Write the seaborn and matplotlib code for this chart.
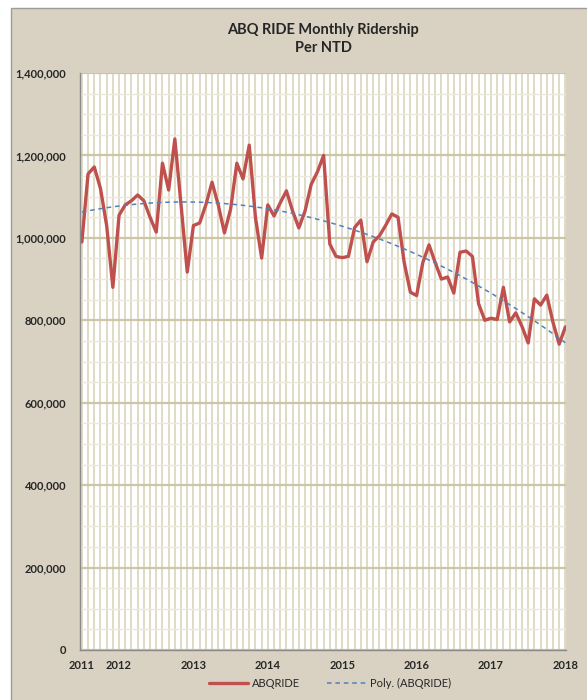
import matplotlib
matplotlib.use("Agg")
import matplotlib.pyplot as plt
from matplotlib.patches import Rectangle
from matplotlib.ticker import FuncFormatter, MultipleLocator
import seaborn as sns
import pandas as pd
import numpy as np

# ABQ RIDE monthly unlinked trips (NTD), Jul 2011 .. Jan 2018
start_month = "2011-07"
riders = [
    990000, 1155000, 1172000, 1120000, 1030000, 880000,
    1055000, 1080000, 1090000, 1104000, 1090000, 1050000,
    1014000, 1181000, 1116000, 1240000, 1080000, 917000,
    1030000, 1036000, 1080000, 1135000, 1080000, 1012000,
    1070000, 1181000, 1143000, 1225000, 1050000, 951000,
    1080000, 1053000, 1085000, 1114000, 1065000, 1024000,
    1065000, 1130000, 1160000, 1200000, 985000, 955000,
    952000, 955000, 1025000, 1043000, 942000, 990000,
    1005000, 1030000, 1058000, 1050000, 940000, 868000,
    860000, 940000, 983000, 940000, 900000, 905000,
    866000, 965000, 968000, 955000, 840000, 800000,
    805000, 802000, 880000, 796000, 818000, 785000,
    745000, 852000, 837000, 861000, 795000, 742000,
    784000,
]
year_labels = ["2011", "2012", "2013", "2014", "2015", "2016", "2017", "2018"]
series_name = "ABQRIDE"
trend_name = "Poly. (ABQRIDE)"

months = pd.period_range(start_month, periods=len(riders), freq="M")
df = pd.DataFrame({"idx": np.arange(len(riders)), "riders": riders})
tick_pos = [0] + [i for i, m in enumerate(months) if m.month == 1]

sns.set_style("white")
plt.rcParams["font.family"] = ["Lato", "DejaVu Sans"]

fig = plt.figure(figsize=(5.87, 7.0), dpi=100, facecolor="white")
fig.add_artist(Rectangle((11 / 587, -0.01), 1.0, 1 - 8 / 700 + 0.01,
                         transform=fig.transFigure, facecolor="#d9d2c2",
                         edgecolor="#9c9c9c", lw=1, zorder=0))

ax = fig.add_axes([80 / 587, 50 / 700, 486 / 587, 577 / 700])
ax.set_facecolor("white")

sns.lineplot(data=df, x="idx", y="riders", ax=ax, color="#c0504d", lw=2.4,
             label=series_name, solid_joinstyle="round", solid_capstyle="round")
sns.regplot(data=df, x="idx", y="riders", ax=ax, order=2, scatter=False, ci=None,
            color="#4f81bd", label=trend_name,
            line_kws={"lw": 1.1, "ls": (0, (3, 2.5))})

ax.set_xlim(-0.3, 78.1)
ax.set_ylim(0, 1400000)
ax.set_xticks(tick_pos)
ax.set_xticklabels(year_labels)
ax.xaxis.set_minor_locator(MultipleLocator(1))
ax.yaxis.set_major_locator(MultipleLocator(200000))
ax.yaxis.set_minor_locator(MultipleLocator(50000))
ax.yaxis.set_major_formatter(FuncFormatter(lambda v, p: f"{int(v):,}"))

ax.grid(axis="x", which="both", color="#dcd8c0", lw=1.3)
ax.grid(axis="y", which="minor", color="#ebe8dc", lw=1.0)
ax.grid(axis="y", which="major", color="#cbc6a6", lw=1.6)
ax.set_axisbelow(True)

ax.tick_params(axis="both", which="both", length=0)
ax.tick_params(axis="y", pad=10)
ax.tick_params(axis="x", pad=7)
for lab in ax.get_xticklabels() + ax.get_yticklabels():
    lab.set_fontweight("bold")
    lab.set_fontsize(8)

for s in ["top", "right"]:
    ax.spines[s].set_visible(False)
for s in ["left", "bottom"]:
    ax.spines[s].set_color("#8a8a8a")
    ax.spines[s].set_linewidth(1.0)

ax.set_xlabel("")
ax.set_ylabel("")
ax.set_title("ABQ RIDE Monthly Ridership\nPer NTD", fontsize=10.5,
             fontweight="bold", pad=15, linespacing=1.35)

ax.get_legend().remove()
handles, labels = ax.get_legend_handles_labels()
fig.legend(handles, labels, loc="center", bbox_to_anchor=(330 / 587, 1 - 683 / 700),
           ncol=2, frameon=False, fontsize=8, handlelength=3.5, columnspacing=2.5,
           handletextpad=0.3)

fig.savefig("out.png", dpi=100, facecolor="white")
